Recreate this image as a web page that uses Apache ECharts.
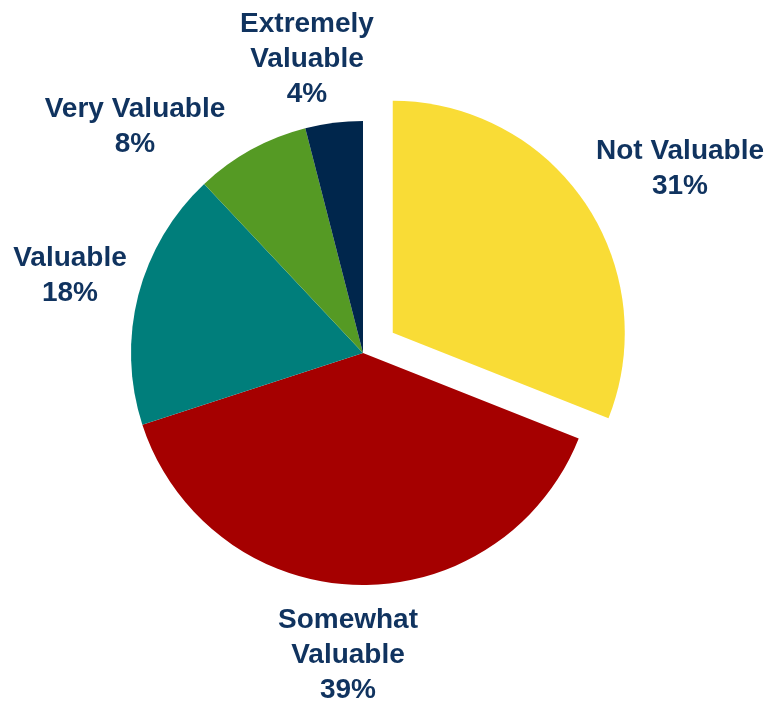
<!DOCTYPE html>
<html>
<head>
<meta charset="utf-8">
<title>Perceived value</title>
<script src="https://cdn.jsdelivr.net/npm/echarts@6/dist/echarts.min.js"></script>
<style>
  html, body { margin: 0; padding: 0; background: #ffffff; }
  #chart { width: 768px; height: 702px; }
</style>
</head>
<body>
<div id="chart"></div>
<script>
// Survey shares, clockwise from 12 o'clock
const categories = ['Not Valuable', 'Somewhat Valuable', 'Valuable', 'Very Valuable', 'Extremely Valuable'];
const labelText = ['Not Valuable', 'Somewhat\nValuable', 'Valuable', 'Very Valuable', 'Extremely\nValuable'];
const shares = [31, 39, 18, 8, 4];
const sliceColors = ['#F9DC36', '#A50000', '#007E7B', '#559A24', '#00264C'];

// Pie geometry
const pieCenter = [363, 353];
const pieRadius = 232;
const explodeIndex = 0;      // slice pulled out of the pie
const explodeDistance = 36;
// Label block centres, relative to the pie centre
const labelOffsets = [[317, -184], [-15, 302], [-293, -77], [-228, -226], [-56, -294]];

// Direction of the exploded slice's mid-angle (start at 12 o'clock, clockwise)
const total = shares.reduce((a, b) => a + b, 0);
const before = shares.slice(0, explodeIndex).reduce((a, b) => a + b, 0);
const midFrac = (before + shares[explodeIndex] / 2) / total;
const midRad = midFrac * 2 * Math.PI;
const explodedCenter = [
  pieCenter[0] + explodeDistance * Math.sin(midRad),
  pieCenter[1] - explodeDistance * Math.cos(midRad)
];

const chart = echarts.init(document.getElementById('chart'), null, { renderer: 'canvas' });

const clear = 'rgba(0,0,0,0)';

const baseSeries = {
  type: 'pie',
  radius: pieRadius,
  startAngle: 90,
  clockwise: true,
  avoidLabelOverlap: false,
  itemStyle: { borderWidth: 0 },
  emphasis: { disabled: true },
  labelLine: { show: false }
};

chart.setOption({
  animation: false,
  series: [
    Object.assign({}, baseSeries, {
      name: 'pie',
      center: pieCenter,
      data: categories.map((name, i) => ({
        name: name,
        value: shares[i],
        itemStyle: { color: i === explodeIndex ? clear : sliceColors[i] }
      })),
      label: {
        show: true,
        position: 'outside',
        formatter: p => labelText[p.dataIndex] + '\n' + p.value + '%',
        color: '#10335F',
        fontFamily: '"Liberation Sans", Arial, sans-serif',
        fontWeight: 'bold',
        fontSize: 28,
        lineHeight: 35,
        align: 'center'
      },
      labelLayout: p => ({
        x: pieCenter[0] + labelOffsets[p.dataIndex][0],
        y: pieCenter[1] + labelOffsets[p.dataIndex][1],
        align: 'center',
        verticalAlign: 'middle'
      })
    }),
    Object.assign({}, baseSeries, {
      name: 'exploded',
      center: explodedCenter,
      silent: true,
      label: { show: false },
      data: categories.map((name, i) => ({
        name: name,
        value: shares[i],
        itemStyle: { color: i === explodeIndex ? sliceColors[i] : clear }
      }))
    })
  ]
});
</script>
</body>
</html>
